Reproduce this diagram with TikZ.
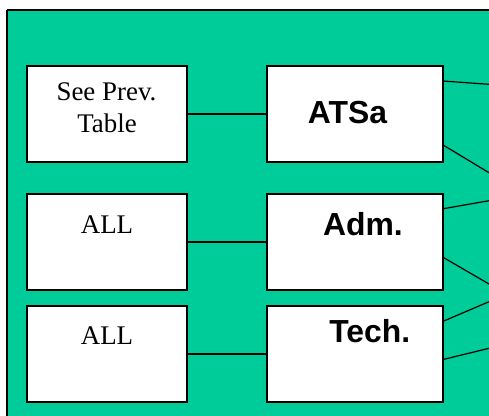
\documentclass[tikz,border=0pt]{standalone}
\usepackage{fontspec}
\setmainfont{Liberation Serif}
\setsansfont{Liberation Sans}
\usetikzlibrary{calc}
\definecolor{bggreen}{HTML}{00CC99}
\tikzset{
  box/.style={draw=black, fill=white, line width=1.3bp, minimum height=96bp, inner sep=0pt},
  lbox/.style={box, minimum width=160bp},
  rbox/.style={box, minimum width=176bp},
  link/.style={draw=black, line width=1.2bp},
  serif/.style={anchor=base, inner sep=0pt, font=\fontsize{27}{31}\selectfont\rmfamily},
  bold/.style={anchor=base, inner sep=0pt, font=\fontsize{32}{36}\selectfont\sffamily\bfseries},
}
\begin{document}
\begin{tikzpicture}[x=1bp,y=-1bp]
\useasboundingbox (0,0) rectangle (489,415);
\begin{scope}
\clip (0,0) rectangle (489,415);
\fill[bggreen] (7,10) rectangle (500,430);
\draw[black, line width=1.4bp] (7,10) -- (500,10);
\draw[black, line width=1.4bp] (7,10) -- (7,430);
\end{scope}
% boxes
\node[lbox] (l1) at (107,114) {};
\node[lbox] (l2) at (107,242) {};
\node[lbox] (l3) at (107,354) {};
\node[rbox] (r1) at (355,114) {};
\node[rbox] (r2) at (355,242) {};
\node[rbox] (r3) at (355,354) {};
% texts
\node[serif] (t1a) at (106.5,100) {See Prev.};
\node[serif] (t1b) at (107,132.3) {Table};
\node[serif] (t2) at (107,233.3) {ALL};
\node[serif] (t3) at (107,344.3) {ALL};
\node[bold] (s1) at (347.5,123.3) {ATSa};
\node[bold] (s2) at (363,235) {Adm.};
\node[bold] (s3) at (369.7,342.7) {Tech.};
% connectors
\draw[link] (l1.east) -- (r1.west);
\draw[link] (l2.east) -- (r2.west);
\draw[link] (l3.east) -- (r3.west);
\coordinate (e1) at (489,84.3);
\coordinate (e2) at (489,172.7);
\coordinate (e3) at (489,200.7);
\coordinate (e4) at (489,284);
\coordinate (e5) at (489,301.7);
\coordinate (e6) at (489,348.3);
\draw[link] ($(r1.north east)+(0,15.7)$) -- (e1);
\draw[link] ($(r1.north east)+(0,80)$) -- (e2);
\draw[link] ($(r2.north east)+(0,15.3)$) -- (e3);
\draw[link] ($(r2.north east)+(0,64.3)$) -- (e4);
\draw[link] ($(r3.north east)+(0,15.7)$) -- (e5);
\draw[link] ($(r3.north east)+(0,54)$) -- (e6);
\end{tikzpicture}
\end{document}
